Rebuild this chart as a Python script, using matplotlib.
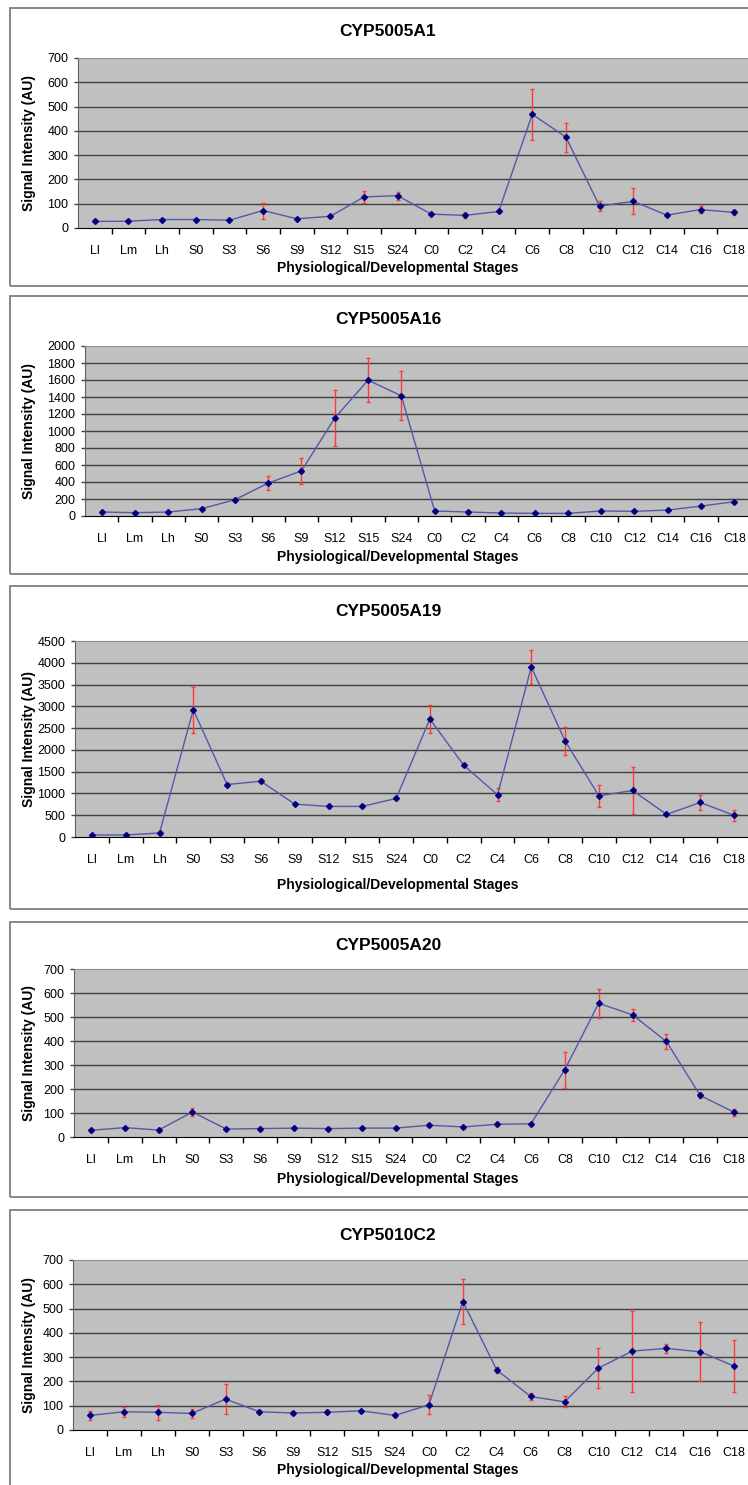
import numpy as np
import matplotlib
matplotlib.use("Agg")
import matplotlib.pyplot as plt
from matplotlib.patches import Rectangle

plt.rcParams['font.family'] = ['Liberation Sans', 'DejaVu Sans']

# stages on the x axis
stages = ['Ll', 'Lm', 'Lh', 'S0', 'S3', 'S6', 'S9', 'S12', 'S15', 'S24',
          'C0', 'C2', 'C4', 'C6', 'C8', 'C10', 'C12', 'C14', 'C16', 'C18']

genes = ['CYP5005A1', 'CYP5005A16', 'CYP5005A19', 'CYP5005A20', 'CYP5010C2']

a1_vals = [27, 28, 35, 35, 32, 72, 38, 48, 128, 133, 57, 52, 68, 468, 374, 90, 110, 53, 76, 64]
a1_err = [3, 3, 4, 3, 3, 33, 4, 5, 26, 16, 5, 9, 4, 105, 60, 20, 54, 4, 15, 9]

a16_vals = [47, 39, 47, 86, 191, 387, 531, 1152, 1598, 1414, 59, 47, 35, 31, 31, 59, 55, 70, 117, 168]
a16_err = [15, 8, 10, 15, 20, 84, 155, 330, 258, 287, 10, 8, 6, 6, 6, 8, 8, 10, 10, 12]

a19_vals = [46, 46, 92, 2921, 1205, 1281, 755, 702, 702, 885, 2708, 1648, 969, 3906, 2204, 946, 1068, 519, 793, 496]
a19_err = [10, 10, 40, 534, 30, 40, 20, 25, 15, 40, 320, 25, 150, 390, 316, 250, 530, 20, 175, 135]

a20_vals = [28, 39, 29, 104, 33, 35, 37, 35, 37, 37, 49, 42, 53, 55, 281, 557, 509, 398, 173, 103]
a20_err = [7, 4, 8, 15, 4, 5, 4, 5, 4, 4, 6, 5, 7, 4, 75, 60, 24, 31, 10, 15]

c2_vals = [60, 75, 73, 68, 127, 75, 70, 73, 79, 60, 104, 529, 247, 138, 116, 255, 325, 336, 322, 263]
c2_err = [20, 21, 30, 20, 61, 6, 10, 8, 4, 5, 39, 94, 14, 14, 22, 82, 167, 20, 122, 107]

y_max = [700, 2000, 4500, 700, 700]
y_step = [100, 200, 500, 100, 100]

all_vals = [a1_vals, a16_vals, a19_vals, a20_vals, c2_vals]
all_err = [a1_err, a16_err, a19_err, a20_err, c2_err]

# pixel layout: box top, box bottom, plot left, plot top, plot bottom, title y, xlabel y
layout = [(8, 286, 78, 58, 228, 32, 268),
          (296, 574, 85, 346, 516, 319, 557),
          (586, 909, 75, 641, 837, 612, 885),
          (922, 1197, 74, 969, 1137, 945, 1179),
          (1210, 1495, 73, 1260, 1430, 1235, 1470)]

W, H = 748, 1485
fig = plt.figure(figsize=(W / 100, H / 100), dpi=100)

for i in range(5):
    bt, bb, pl, pt, pb, ty, xy = layout[i]

    # grey box round each panel
    fig.add_artist(Rectangle((10 / W, 1 - bb / H), 760 / W, (bb - bt) / H,
                             transform=fig.transFigure, fill=False,
                             edgecolor='#7f7f7f', lw=1.3))

    ax = fig.add_axes([pl / W, 1 - pb / H, (751 - pl) / W, (pb - pt) / H])
    ax.set_facecolor('#c0c0c0')
    x = np.arange(len(stages))

    ax.errorbar(x, all_vals[i], yerr=all_err[i], fmt='none', ecolor='#ff3838',
                elinewidth=1, capsize=1.6, capthick=1, zorder=2)
    ax.plot(x, all_vals[i], color='#5656aa', lw=1, zorder=3)
    ax.plot(x, all_vals[i], 'D', color='#000080', ms=3, zorder=4)

    ax.set_xlim(-0.5, len(stages) - 0.5)
    ax.set_ylim(0, y_max[i])
    ax.set_yticks(np.arange(0, y_max[i] + 1, y_step[i]))
    for v in np.arange(y_step[i], y_max[i], y_step[i]):
        ax.axhline(v, color='#404040', lw=1, zorder=1)

    ax.set_xticks(x)
    ax.set_xticklabels(stages, fontsize=9)
    ax.set_xticks(np.arange(0.5, len(stages) - 0.5), minor=True)
    ax.tick_params(axis='x', which='major', length=0, pad=12)
    ax.tick_params(axis='x', which='minor', length=4, width=1, color='black', direction='out')
    ax.tick_params(axis='y', length=3, width=1, color='#404040', labelsize=9, pad=4)

    ax.spines['bottom'].set_color('black')
    ax.spines['left'].set_color('#606060')
    ax.spines['top'].set_color('#909090')
    ax.spines['right'].set_visible(False)

    fig.text(388 / W, 1 - ty / H, genes[i], ha='center', va='center',
             fontsize=12.5, fontweight='bold')
    fig.text(398 / W, 1 - xy / H, 'Physiological/Developmental Stages',
             ha='center', va='center', fontsize=10, fontweight='bold')
    fig.text(29 / W, 1 - (pt + pb) / 2 / H, 'Signal Intensity (AU)', ha='center',
             va='center', rotation=90, fontsize=10, fontweight='bold')

fig.savefig('out.png', dpi=100, facecolor='white')
